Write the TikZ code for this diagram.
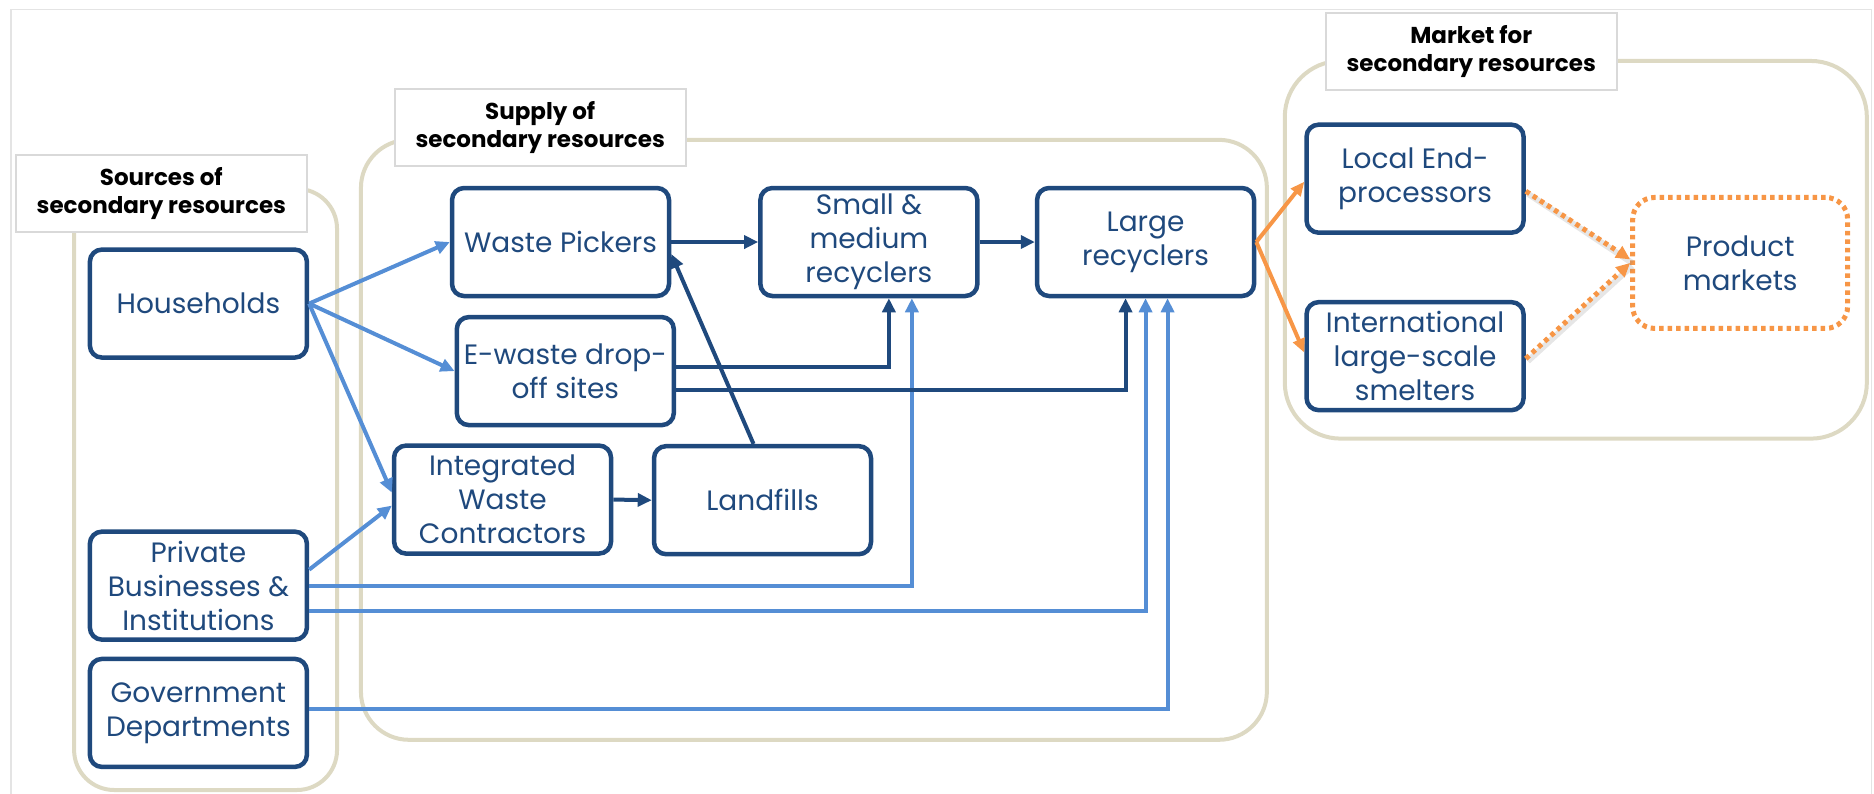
\documentclass[tikz,border=0pt]{standalone}
\usepackage{fontspec}
\setmainfont{Poppins}
\usetikzlibrary{arrows.meta}

\definecolor{navy}{HTML}{1F497D}
\definecolor{skyline}{HTML}{558ED5}
\definecolor{sand}{HTML}{DDD9C3}
\definecolor{amber}{HTML}{F79646}
\definecolor{framegray}{HTML}{E4E4E4}
\definecolor{taggray}{HTML}{D9D9D9}

\begin{document}
\begin{tikzpicture}[x=1.1952pt,y=-1.1952pt,
  unit/.style={draw=navy, line width=4.5pt, rounded corners=12pt, fill=white,
    text=navy, minimum width=217pt, minimum height=108pt, align=center,
    inner sep=2pt, font=\fontsize{28}{34}\selectfont},
  tag/.style={draw=taggray, line width=2pt, fill=white, text=black,
    minimum width=291pt, minimum height=77pt, align=center, inner sep=2pt,
    font=\bfseries\fontsize{23}{28}\selectfont},
  zone/.style={draw=sand, line width=4pt},
  feed/.style={draw=skyline, line width=4pt, -{Triangle[length=14pt,width=13pt]}},
  flow/.style={draw=navy, line width=4pt, -{Triangle[length=14pt,width=13pt]}},
  trade/.style={draw=amber, line width=4pt, -{Triangle[length=14pt,width=12pt]}},
  dots/.style={draw=amber, line width=5pt, dash pattern=on 4.5pt off 4pt},
  haze/.style={draw=black!45, opacity=0.22, line width=6pt},
]
\useasboundingbox (0,0) rectangle (1568,664);

% thin page frame
\draw[framegray, line width=1.5pt] (9,664) -- (9,8) -- (1566,8) -- (1566,664);

% group containers
\draw[zone, rounded corners=40pt] (62,158) rectangle (282,661);
\draw[zone, rounded corners=48pt] (302,117) rectangle (1060,619);
\draw[zone, rounded corners=56pt] (1075,51) rectangle (1562,367);

% group titles
\node[tag] (srcl) at (135,162) {Sources of\\secondary resources};
\node[tag] (supl) at (452,107) {Supply of\\secondary resources};
\node[tag] (mktl) at (1231,43) {Market for\\secondary resources};

% sources
\node[unit] (hh) at (166,254) {Households};
\node[unit] (pb) at (166,490) {Private\\Businesses \&\\Institutions};
\node[unit] (gd) at (166,596.5) {Government\\Departments};

% supply chain
\node[unit] (wp) at (469,202.5) {Waste Pickers};
\node[unit] (ew) at (473,310.5) {E-waste drop-\\off sites};
\node[unit] (iwc) at (420.5,418) {Integrated\\Waste\\Contractors};
\node[unit] (lf) at (638,418.5) {Landfills};
\node[unit] (sm) at (727,202.5) {Small \&\\medium\\recyclers};
\node[unit] (lr) at (958.5,202.5) {Large\\recyclers};

% markets
\node[unit] (le) at (1184,149.5) {Local End-\\processors};
\node[unit] (ils) at (1184,298) {International\\large-scale\\smelters};
\node[unit, draw=amber, line width=5pt, dash pattern=on 4.5pt off 4pt,
  rounded corners=22pt, minimum width=215pt, minimum height=131pt]
  (pm) at (1456,220) {Product\\markets};

% flows from the sources
\draw[feed] (hh.east) -- (wp.west);
\draw[feed] (hh.east) -- (ew.west);
\draw[feed] (hh.east) -- ([yshift=7pt]iwc.west);
\draw[feed] ([yshift=16pt]pb.east) -- ([yshift=-6pt]iwc.west);
\draw[feed] (pb.east) -| ([xshift=43pt]sm.south);
\draw[feed] ([yshift=-25pt]pb.east) -| (lr.south);
\draw[feed] ([yshift=4pt]gd.east) -| ([xshift=22pt]lr.south);

% flows inside the supply chain
\draw[flow] (wp.east) -- (sm.west);
\draw[flow] (sm.east) -- (lr.west);
\draw[flow] ([yshift=4pt]ew.east) -| ([xshift=20pt]sm.south);
\draw[flow] ([yshift=-19pt]ew.east) -| ([xshift=-20pt]lr.south);
\draw[flow] (iwc.east) -- (lf.west);
\draw[flow] ([xshift=-9pt]lf.north) -- ([yshift=-12pt]wp.east);

% flows to the markets
\draw[trade] (lr.east) -- ([yshift=-3pt]le.west);
\draw[trade] (lr.east) -- ([yshift=3.5pt]ils.west);

\draw[haze] ([xshift=2pt,yshift=-15pt]le.east) -- ([xshift=2pt,yshift=0pt]pm.west);
\draw[haze] ([xshift=2pt,yshift=-5pt]ils.east) -- ([xshift=2pt,yshift=-3pt]pm.west);
\draw[dots, -{Triangle[length=14pt,width=13pt]}] ([yshift=-12.5pt]le.east) -- ([yshift=3.5pt]pm.west);
\draw[dots, -{Triangle[length=14pt,width=13pt]}] ([yshift=-2.5pt]ils.east) -- (pm.west);
\end{tikzpicture}
\end{document}
